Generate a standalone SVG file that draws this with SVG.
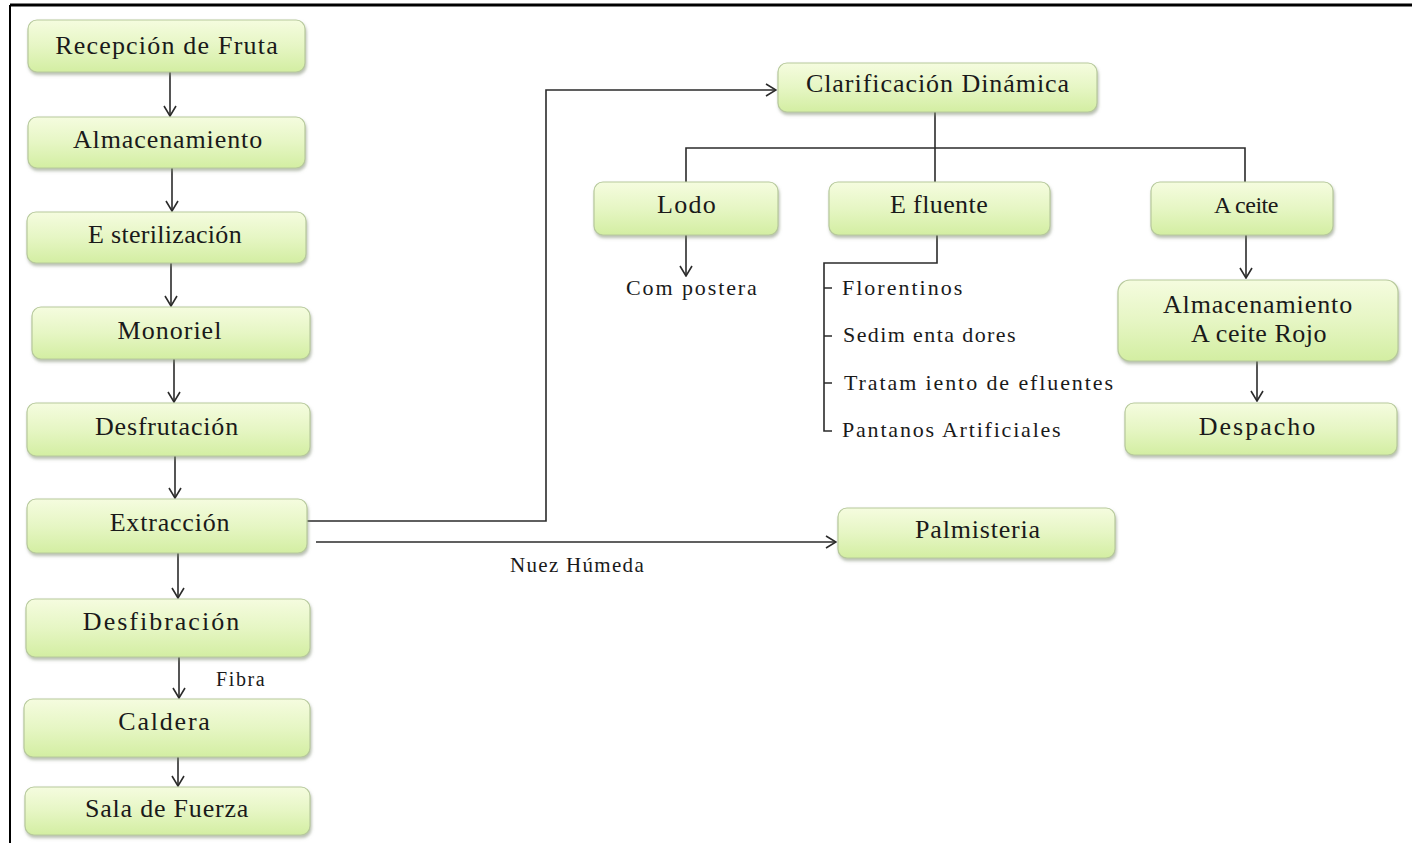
<svg xmlns="http://www.w3.org/2000/svg" width="1412" height="843" viewBox="0 0 1412 843">
  <defs>
    <linearGradient id="boxFill" x1="0" y1="0" x2="0" y2="1">
      <stop offset="0" stop-color="#f5fcdf"/>
      <stop offset="0.5" stop-color="#e6f6c4"/>
      <stop offset="1" stop-color="#d3eea2"/>
    </linearGradient>
    <filter id="shadow" x="-10%" y="-20%" width="120%" height="150%">
      <feDropShadow dx="1" dy="2.5" stdDeviation="1.5" flood-color="#7d8a70" flood-opacity="0.55"/>
    </filter>
    <marker id="openHead" viewBox="0 0 12 14" refX="11" refY="7" markerWidth="12" markerHeight="14" markerUnits="userSpaceOnUse" orient="auto">
      <path d="M1,1 L11,7 L1,13" fill="none" stroke="#2b2b2b" stroke-width="1.6"/>
    </marker>
  </defs>

  <rect x="0" y="0" width="1412" height="843" fill="#ffffff"/>

  <!-- page frame -->
  <line x1="10" y1="5" x2="1412" y2="5" stroke="#000" stroke-width="3"/>
  <line x1="10" y1="5" x2="10" y2="843" stroke="#000" stroke-width="2"/>

  <!-- connectors -->
  <g id="connectors" fill="none" stroke="#2b2b2b" stroke-width="1.6">
    <g marker-end="url(#openHead)">
      <line x1="170" y1="72" x2="170" y2="116"/>
      <line x1="172" y1="168" x2="172" y2="211"/>
      <line x1="171" y1="263" x2="171" y2="306"/>
      <line x1="174" y1="359" x2="174" y2="402"/>
      <line x1="175" y1="456" x2="175" y2="498"/>
      <line x1="178" y1="553" x2="178" y2="598"/>
      <line x1="179" y1="657" x2="179" y2="698"/>
      <line x1="178" y1="757" x2="178" y2="786"/>
      <polyline points="307,521 546,521 546,90 776,90"/>
      <line x1="316" y1="542" x2="836" y2="542"/>
      <line x1="686" y1="235" x2="686" y2="276"/>
      <line x1="1246" y1="235" x2="1246" y2="278"/>
      <line x1="1257" y1="361" x2="1257" y2="401"/>
    </g>
    <line x1="935" y1="112" x2="935" y2="182"/>
    <polyline points="686,182 686,148 1245,148 1245,182"/>
    <path d="M937,235 V263 H824 V431 H832 M824,288 H832 M824,336 H832 M824,383 H832"/>
  </g>

  <!-- process boxes -->
  <g fill="url(#boxFill)" stroke="#b7c99c" stroke-width="1.2" filter="url(#shadow)">
    <rect id="recepcion" x="28" y="20" width="277" height="52" rx="9"/>
    <rect id="almacenamiento" x="28" y="117" width="277" height="51" rx="9"/>
    <rect id="esterilizacion" x="27" y="212" width="279" height="51" rx="9"/>
    <rect id="monoriel" x="32" y="307" width="278" height="52" rx="9"/>
    <rect id="desfrutacion" x="27" y="403" width="283" height="53" rx="9"/>
    <rect id="extraccion" x="27" y="499" width="280" height="54" rx="9"/>
    <rect id="desfibracion" x="26" y="599" width="284" height="58" rx="9"/>
    <rect id="caldera" x="24" y="699" width="286" height="58" rx="9"/>
    <rect id="sala-fuerza" x="25" y="787" width="285" height="48" rx="9"/>
    <rect id="clarificacion" x="778" y="63" width="319" height="49" rx="9"/>
    <rect id="lodo" x="594" y="182" width="184" height="53" rx="9"/>
    <rect id="efluente" x="829" y="182" width="221" height="53" rx="9"/>
    <rect id="aceite" x="1151" y="182" width="182" height="53" rx="9"/>
    <rect id="almacenamiento-aceite" x="1118" y="280" width="280" height="81" rx="12"/>
    <rect id="despacho" x="1125" y="403" width="272" height="52" rx="9"/>
    <rect id="palmisteria" x="838" y="508" width="277" height="50" rx="9"/>
  </g>

  <!-- box labels -->
  <g id="box-labels" font-family="Liberation Serif" font-size="26" fill="#1a1a1a" text-anchor="middle">
    <text x="167" y="54" letter-spacing="1.2">Recepción de Fruta</text>
    <text x="168" y="148" letter-spacing="0.9">Almacenamiento</text>
    <text x="165" y="243" letter-spacing="0.3">E sterilización</text>
    <text x="170" y="339" letter-spacing="1">Monoriel</text>
    <text x="167" y="435" letter-spacing="0.8">Desfrutación</text>
    <text x="170" y="531" letter-spacing="0.8">Extracción</text>
    <text x="162" y="630" letter-spacing="2">Desfibración</text>
    <text x="165" y="730" letter-spacing="1.8">Caldera</text>
    <text x="167" y="817" letter-spacing="0.8">Sala de Fuerza</text>
    <text x="938" y="92" letter-spacing="0.95">Clarificación Dinámica</text>
    <text x="687" y="213" letter-spacing="1.3">Lodo</text>
    <text x="939" y="213" letter-spacing="0.4">E fluente</text>
    <text x="1246" y="213" font-size="24" letter-spacing="-0.5">A ceite</text>
    <text x="1258" y="313" letter-spacing="0.9">Almacenamiento</text>
    <text x="1259" y="342" letter-spacing="0.5">A ceite Rojo</text>
    <text x="1258" y="435" letter-spacing="2">Despacho</text>
    <text x="978" y="538" letter-spacing="0.8">Palmisteria</text>
  </g>

  <!-- outputs of lodo and efluente -->
  <g id="sub-labels" font-family="Liberation Serif" font-size="22" fill="#1a1a1a">
    <text x="626" y="295" letter-spacing="1.9">Com postera</text>
    <text x="842" y="295" letter-spacing="2">Florentinos</text>
    <text x="843" y="342" letter-spacing="1.4">Sedim enta dores</text>
    <text x="844" y="390" letter-spacing="1.9">Tratam iento de efluentes</text>
    <text x="842" y="437" letter-spacing="1.8">Pantanos Artificiales</text>
  </g>

  <g id="edge-labels" font-family="Liberation Serif" fill="#1a1a1a">
    <text x="510" y="572" font-size="21" letter-spacing="1.3">Nuez Húmeda</text>
    <text x="216" y="686" font-size="20" letter-spacing="1.6">Fibra</text>
  </g>
</svg>
